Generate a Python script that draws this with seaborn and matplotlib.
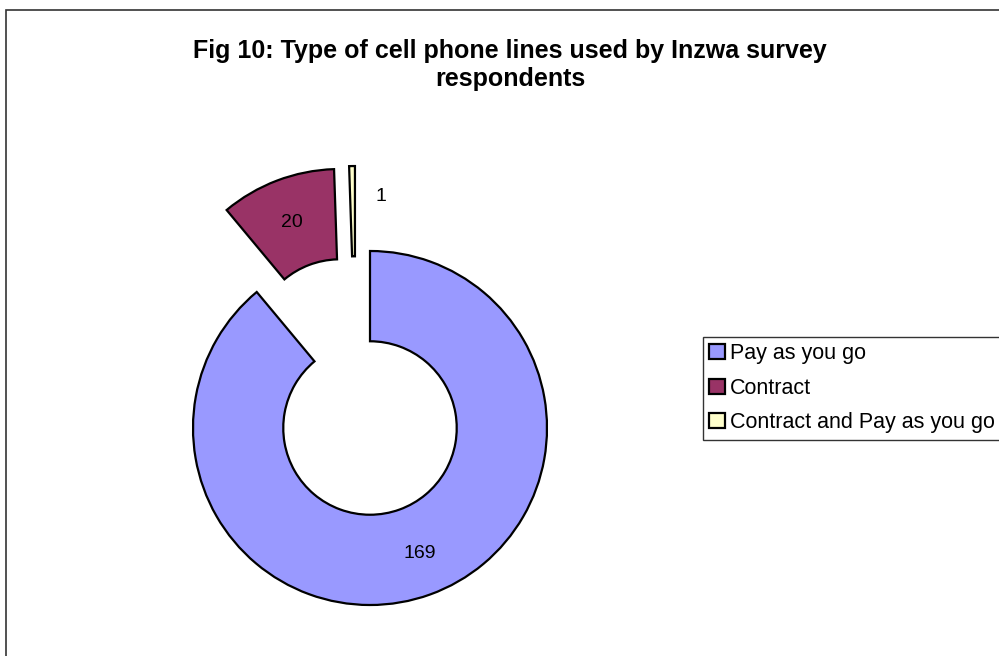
"""
Fig 10 - type of cell phone lines, exploded doughnut chart
"""

import matplotlib
matplotlib.use("Agg")
import matplotlib.pyplot as plt
from matplotlib.patches import Rectangle
import seaborn as sns

# data
line_types = ["Pay as you go", "Contract", "Contract and Pay as you go"]
respondents = [169, 20, 1]
slice_colors = ["#9999FF", "#993366", "#FFFFCC"]


def main():
    sns.set_theme(style="white")
    plt.rcParams['font.family'] = ['Liberation Sans', 'DejaVu Sans']
    plt.rcParams['text.color'] = 'black'

    fig = plt.figure(figsize=(9.99, 6.56), dpi=100)
    # axes over the whole figure, 1 data unit = outer radius (177 px)
    ax = fig.add_axes([0, 0, 1, 1])

    wedges, _ = ax.pie(
        respondents,
        colors=slice_colors,
        startangle=90,
        counterclock=False,
        wedgeprops=dict(width=0.51, edgecolor="black", linewidth=1.6),
    )

    r_px = 177.0
    cx, cy = 370.0, 428.0
    ax.set_aspect("auto")
    ax.set_xlim(-cx / r_px, (999 - cx) / r_px)
    ax.set_ylim(-(656 - cy) / r_px, cy / r_px)
    ax.axis("off")

    # exploded slices (Excel style offsets)
    centers = [(0.0, 0.0), (-0.17, 0.463), (-0.085, 0.48)]
    for w, c in zip(wedges, centers):
        w.set_center(c)

    # value labels
    ax.text(0.28, -0.71, str(respondents[0]), ha="center", va="center",
            fontsize=14)
    ax.text(-0.17 - 0.27, 0.463 + 0.70, str(respondents[1]),
            ha="center", va="center", fontsize=14)
    ax.text(-0.085 + 0.147, 0.48 + 0.83, str(respondents[2]),
            ha="center", va="center", fontsize=14)

    fig.text(510 / 999, 1 - 65 / 656,
             "Fig 10: Type of cell phone lines used by Inzwa survey\n"
             "respondents",
             ha="center", va="center", fontsize=18, fontweight="bold",
             linespacing=1.2)

    leg = fig.legend(
        wedges, line_types,
        loc="upper left",
        bbox_to_anchor=(703 / 999, 1 - 337 / 656),
        fontsize=15.5,
        frameon=True,
        fancybox=False,
        handlelength=0.7,
        handleheight=0.7,
        handletextpad=0.25,
        labelspacing=0.62,
        borderpad=0.3,
        borderaxespad=0,
    )
    leg.get_frame().set_edgecolor("black")
    leg.get_frame().set_linewidth(1.0)

    # chart area border (cut by the image edge on right and bottom)
    fig.patches.append(Rectangle((6 / 999, -0.1), 1.2, 1 - 10 / 656 + 0.1,
                                 transform=fig.transFigure, fill=False,
                                 edgecolor="#333333", linewidth=1.2))

    fig.savefig("out.png", dpi=100, facecolor="white")


if __name__ == "__main__":
    main()
